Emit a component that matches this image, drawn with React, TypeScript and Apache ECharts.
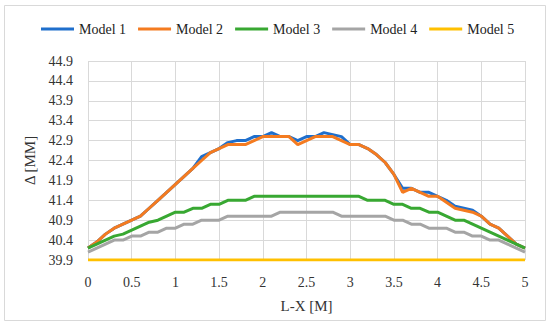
import React, { useEffect, useRef } from "react";
import * as echarts from "echarts";

const xValues = [
  0, 0.1, 0.2, 0.3, 0.4, 0.5, 0.6, 0.7, 0.8, 0.9,
  1, 1.1, 1.2, 1.3, 1.4, 1.5, 1.6, 1.7, 1.8, 1.9,
  2, 2.1, 2.2, 2.3, 2.4, 2.5, 2.6, 2.7, 2.8, 2.9,
  3, 3.1, 3.2, 3.3, 3.4, 3.5, 3.6, 3.7, 3.8, 3.9,
  4, 4.1, 4.2, 4.3, 4.4, 4.5, 4.6, 4.7, 4.8, 4.9, 5,
];

const model1 = [
  40.2, 40.35, 40.55, 40.7, 40.8, 40.9, 41.0, 41.2, 41.4, 41.6,
  41.8, 42.0, 42.2, 42.5, 42.6, 42.7, 42.85, 42.9, 42.9, 43.0,
  43.0, 43.1, 43.0, 43.0, 42.9, 43.0, 43.0, 43.1, 43.05, 43.0,
  42.8, 42.8, 42.7, 42.55, 42.35, 42.05, 41.7, 41.7, 41.6, 41.6,
  41.5, 41.4, 41.25, 41.2, 41.15, 41.0, 40.8, 40.7, 40.5, 40.3, 40.2,
];

const model2 = [
  40.2, 40.35, 40.55, 40.7, 40.8, 40.9, 41.0, 41.2, 41.4, 41.6,
  41.8, 42.0, 42.2, 42.4, 42.6, 42.7, 42.8, 42.8, 42.8, 42.9,
  43.0, 43.0, 43.0, 43.0, 42.8, 42.9, 43.0, 43.0, 43.0, 42.9,
  42.8, 42.8, 42.7, 42.55, 42.35, 42.05, 41.6, 41.7, 41.6, 41.5,
  41.5, 41.35, 41.2, 41.15, 41.1, 41.0, 40.8, 40.7, 40.5, 40.3, 40.2,
];

const model3 = [
  40.2, 40.3, 40.4, 40.5, 40.55, 40.65, 40.75, 40.85, 40.9, 41.0,
  41.1, 41.1, 41.2, 41.2, 41.3, 41.3, 41.4, 41.4, 41.4, 41.5,
  41.5, 41.5, 41.5, 41.5, 41.5, 41.5, 41.5, 41.5, 41.5, 41.5,
  41.5, 41.5, 41.4, 41.4, 41.4, 41.3, 41.3, 41.2, 41.2, 41.1,
  41.1, 41.0, 40.9, 40.9, 40.8, 40.7, 40.6, 40.5, 40.4, 40.3, 40.2,
];

const model4 = [
  40.1, 40.2, 40.3, 40.4, 40.4, 40.5, 40.5, 40.6, 40.6, 40.7,
  40.7, 40.8, 40.8, 40.9, 40.9, 40.9, 41.0, 41.0, 41.0, 41.0,
  41.0, 41.0, 41.1, 41.1, 41.1, 41.1, 41.1, 41.1, 41.1, 41.0,
  41.0, 41.0, 41.0, 41.0, 41.0, 40.9, 40.9, 40.8, 40.8, 40.7,
  40.7, 40.7, 40.6, 40.6, 40.5, 40.5, 40.4, 40.4, 40.3, 40.2, 40.1,
];

const model5 = [
  39.9, 39.9, 39.9, 39.9, 39.9, 39.9, 39.9, 39.9, 39.9, 39.9,
  39.9, 39.9, 39.9, 39.9, 39.9, 39.9, 39.9, 39.9, 39.9, 39.9,
  39.9, 39.9, 39.9, 39.9, 39.9, 39.9, 39.9, 39.9, 39.9, 39.9,
  39.9, 39.9, 39.9, 39.9, 39.9, 39.9, 39.9, 39.9, 39.9, 39.9,
  39.9, 39.9, 39.9, 39.9, 39.9, 39.9, 39.9, 39.9, 39.9, 39.9, 39.9,
];

const seriesNames = ["Model 1", "Model 2", "Model 3", "Model 4", "Model 5"];
const seriesData = [model1, model2, model3, model4, model5];
const colors = ["#1f6fcc", "#f47b20", "#38a832", "#a5a5a5", "#ffc000"];

const FONT = "Liberation Serif, Times New Roman, serif";

export default function App() {
  const ref = useRef<HTMLDivElement>(null);
  useEffect(() => {
    if (!ref.current) return;
    const chart = echarts.init(ref.current, null, { renderer: "svg" });
    chart.setOption({
      animation: false,
      backgroundColor: "#ffffff",
      textStyle: { fontFamily: FONT },
      graphic: [
        {
          type: "rect",
          shape: { x: 4.5, y: 5.5, width: 541, height: 315 },
          style: { fill: "none", stroke: "#d9d9d9", lineWidth: 1 },
          silent: true,
        },
      ],
      legend: {
        top: 17,
        left: 36,
        width: 510,
        itemWidth: 33,
        itemHeight: 3,
        itemGap: 12,
        icon: "rect",
        textStyle: { fontFamily: FONT, fontSize: 14, color: "#222" },
        data: seriesNames,
      },
      grid: { left: 88, right: 25, top: 61, bottom: 68 },
      xAxis: {
        type: "value",
        min: 0,
        max: 5,
        interval: 0.5,
        name: "L-X [M]",
        nameLocation: "middle",
        nameGap: 38,
        nameTextStyle: { fontFamily: FONT, fontSize: 15, color: "#333" },
        axisLine: { show: false },
        axisTick: { show: false },
        axisLabel: { fontFamily: FONT, fontSize: 14, color: "#333", margin: 15 },
        splitLine: { show: true, lineStyle: { color: "#d9d9d9", width: 1 } },
      },
      yAxis: {
        type: "value",
        min: 39.9,
        max: 44.9,
        interval: 0.5,
        name: "Δ [MM]",
        nameLocation: "middle",
        nameGap: 44,
        nameTextStyle: { fontFamily: FONT, fontSize: 15, color: "#333" },
        axisLine: { show: false },
        axisTick: { show: false },
        axisLabel: {
          fontFamily: FONT,
          fontSize: 14,
          color: "#333",
          margin: 15,
          formatter: (v: number) => v.toFixed(1),
        },
        splitLine: { show: true, lineStyle: { color: "#d9d9d9", width: 1 } },
      },
      series: seriesNames.map((name, i) => ({
        name,
        type: "line",
        data: xValues.map((x, j) => [x, seriesData[i][j]]),
        showSymbol: false,
        symbol: "none",
        color: colors[i],
        lineStyle: { color: colors[i], width: 3 },
        z: 2 + i,
      })),
    });
    return () => chart.dispose();
  }, []);
  return (
    <div
      ref={ref}
      style={{ position: "fixed", left: 0, top: 0, width: 550, height: 328 }}
    />
  );
}
